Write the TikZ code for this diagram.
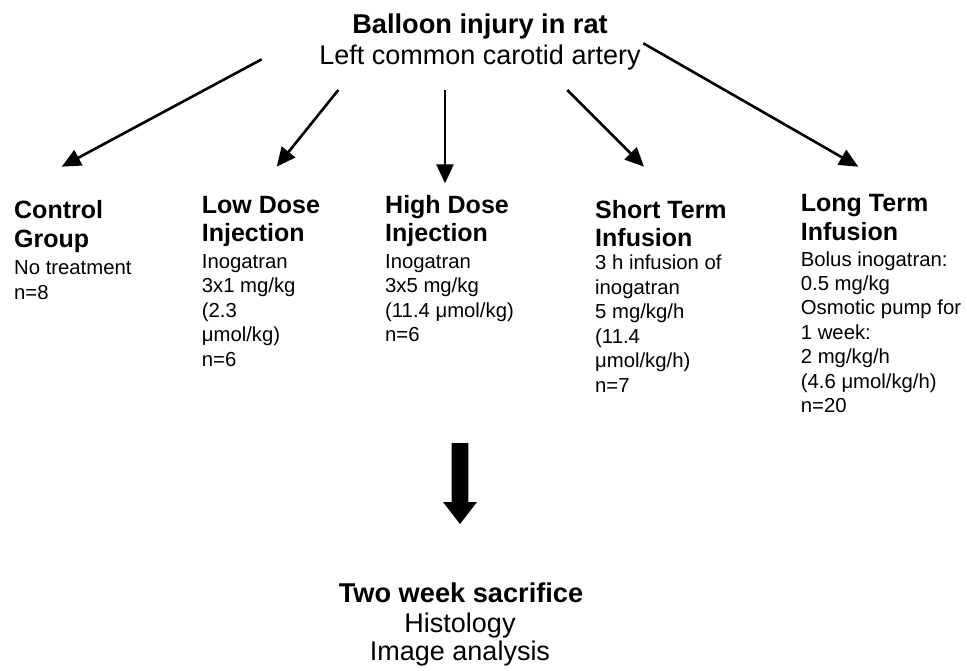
\documentclass[tikz,border=0pt]{standalone}
\usepackage{fontspec}
\setmainfont{Liberation Sans}
\usetikzlibrary{arrows.meta}
\newcommand\colstack[1]{\begin{tabular}[t]{@{}l@{}}#1\end{tabular}}
\newcommand\ctrstack[1]{\begin{tabular}[t]{@{}c@{}}#1\end{tabular}}
\begin{document}
\begin{tikzpicture}[x=1pt,y=-1pt,
  conn/.style={line width=2.6pt,-{Triangle[length=19pt,width=17pt]}},
  headtxt/.style={anchor=base west,inner sep=0pt,font=\bfseries\fontsize{25}{28.5}\selectfont},
  bodytxt/.style={anchor=base west,inner sep=0pt,font=\fontsize{20.3}{24.5}\selectfont},
  bigbold/.style={anchor=base,inner sep=0pt,font=\bfseries\fontsize{27.2}{30}\selectfont},
  bigreg/.style={anchor=base,inner sep=0pt,font=\fontsize{27}{29}\selectfont},
  blockarrow/.style={fill=black,draw=none}]
\useasboundingbox (0,0) rectangle (967,671);

% title
\node[bigbold] (title) at (480,33.3) {Balloon injury in rat};
\node[bigreg] (subtitle) at (480,65) {Left common carotid artery};

% groups
\node[headtxt] (ctrlH) at (14,219) {\colstack{Control\\Group}};
\node[bodytxt] (ctrlB) at (14,275) {\colstack{No treatment\\n=8}};

\node[headtxt] (lowH) at (201.7,213.3) {\colstack{Low Dose\\Injection}};
\node[bodytxt] (lowB) at (201.7,268.3) {\colstack{Inogatran\\3x1 mg/kg\\(2.3\\μmol/kg)\\n=6}};

\node[headtxt] (highH) at (385,213.3) {\colstack{High Dose\\Injection}};
\node[bodytxt] (highB) at (385,268.3) {\colstack{Inogatran\\3x5 mg/kg\\(11.4 μmol/kg)\\n=6}};

\node[headtxt] (shortH) at (595,218.3) {\colstack{Short Term\\Infusion}};
\node[bodytxt] (shortB) at (595,270) {\colstack{3 h infusion of\\inogatran\\5 mg/kg/h\\(11.4\\μmol/kg/h)\\n=7}};

\node[headtxt] (longH) at (800.7,211.7) {\colstack{Long Term\\Infusion}};
\node[bodytxt] (longB) at (800.7,266) {\colstack{Bolus inogatran:\\0.5 mg/kg\\Osmotic pump for\\1 week:\\2 mg/kg/h\\(4.6 μmol/kg/h)\\n=20}};

% bottom
\node[bigbold] (sac) at (461,602) {Two week sacrifice};
\node[bigreg] (hist) at (460,632.5) {Histology};
\node[bigreg] (img) at (460,660.5) {Image analysis};

% connector end points
\coordinate (s1) at (261.7,59.3);  \coordinate (t1) at (61.7,166.7);
\coordinate (s2) at (338.3,90);    \coordinate (t2) at (276.7,166.7);
\coordinate (s3) at (445,90);      \coordinate (t3) at (445,183.3);
\coordinate (s4) at (567.3,90);    \coordinate (t4) at (644,166.7);
\coordinate (s5) at (643.3,43.3);  \coordinate (t5) at (858.3,166.7);

\draw[conn] (s1) -- (t1);
\draw[conn] (s2) -- (t2);
\draw[conn] (s3) -- (t3);
\draw[conn] (s4) -- (t4);
\draw[conn] (s5) -- (t5);

% block arrow
\fill[blockarrow] (451.7,443) -- (468.3,443) -- (468.3,502) -- (477,502)
  -- (460,524) -- (443,502) -- (451.7,502) -- cycle;
\end{tikzpicture}
\end{document}
